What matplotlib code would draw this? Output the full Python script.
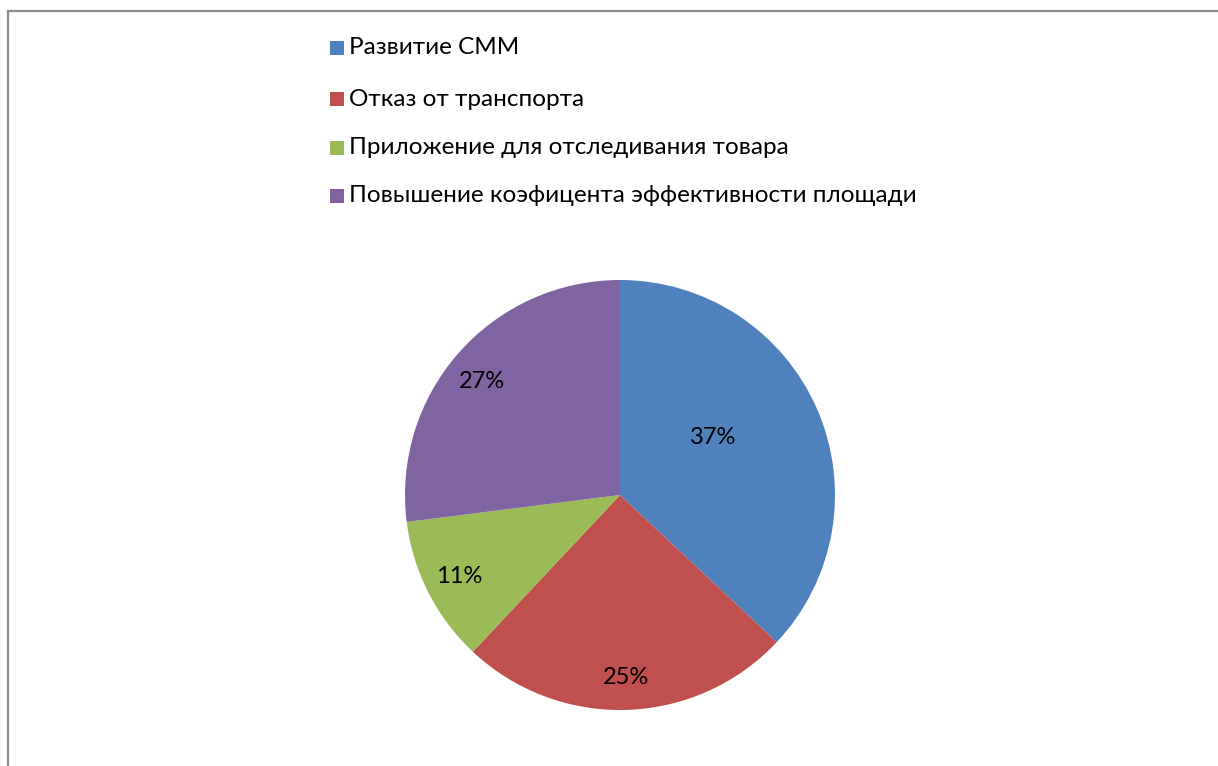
import matplotlib.pyplot as plt
import numpy as np
from matplotlib.patches import Rectangle

labels = [
    "Развитие СММ",
    "Отказ от транспорта",
    "Приложение для отследивания товара",
    "Повышение коэфицента эффективности площади",
]
shares = [37, 25, 11, 27]
colors = ["#4F81BD", "#C0504D", "#9BBB59", "#8064A2"]

# where each percentage sits: fraction of the radius, and a nudge in degrees
label_r = [0.51, 0.85, 0.84, 0.83]
label_turn = [8, 0, 0, 2]

plt.rcParams["font.family"] = ["Lato", "DejaVu Sans"]

W, H = 1218, 766
fig = plt.figure(figsize=(W / 100, H / 100), dpi=100)

# chart area frame, clipped by the figure edge on the right and bottom
fig.patches.append(Rectangle((7.5 / W, -0.05), 1.1, (H - 10.5) / H + 0.05,
                             transform=fig.transFigure, fill=False,
                             edgecolor="#8c8c8c", linewidth=1.6))

cx, cy, r = 620, 495, 215
ax = fig.add_axes([(cx - r) / W, (H - cy - r) / H, 2 * r / W, 2 * r / H])
wedges, _ = ax.pie(shares, colors=colors, startangle=90, counterclock=False,
                   radius=1, wedgeprops=dict(linewidth=0))
ax.set_xlim(-1, 1)
ax.set_ylim(-1, 1)
ax.set_aspect("equal")
ax.axis("off")

for w, v, d, t in zip(wedges, shares, label_r, label_turn):
    mid = np.deg2rad((w.theta1 + w.theta2) / 2 + t)
    ax.text(d * np.cos(mid), d * np.sin(mid), f"{v}%", ha="center",
            va="center", fontsize=17, color="black")

# legend stacked above the pie
ys = [48, 99, 148, 196]
for name, c, y in zip(labels, colors, ys):
    fig.patches.append(Rectangle((330 / W, (H - y - 7) / H), 14 / W, 14 / H,
                                 transform=fig.transFigure, facecolor=c,
                                 edgecolor="none"))
    fig.text(349 / W, (H - y) / H, name, ha="left", va="center",
             fontsize=17.5, color="black")

fig.savefig("out.png", dpi=100)
